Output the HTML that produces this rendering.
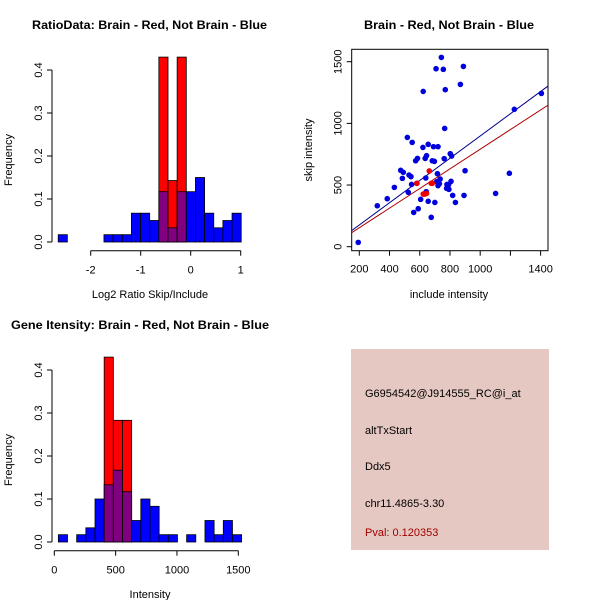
<!DOCTYPE html>
<html><head><meta charset="utf-8"><style>
html,body{margin:0;padding:0;background:#fff}
svg{display:block;font-family:"Liberation Sans",sans-serif}
</style></head><body>
<svg id="chart" width="600" height="600" viewBox="0 0 600 600" xmlns="http://www.w3.org/2000/svg">
<rect x="0" y="0" width="600" height="600" fill="#fff"/>
<g id="p1"></g>
<g id="p2"></g>
<g id="p3"></g>
<g>
<rect x="351" y="349" width="198" height="201" fill="#e6c8c2"/>
<text x="365" y="397" font-size="11">G6954542@J914555_RC@i_at</text>
<text x="365" y="434" font-size="11">altTxStart</text>
<text x="365" y="470" font-size="11">Ddx5</text>
<text x="365" y="507" font-size="11">chr11.4865-3.30</text>
<text x="365" y="536" font-size="11" fill="#a00000">Pval: 0.120353</text>
</g>
</svg>
<script>
// Ratio histogram data
const ratioBinStart = -2.65;
const ratioBinWidth = 0.183;
const ratioBlue = [0.017,0,0,0,0,0.017,0.017,0.017,0.067,0.067,0.05,0.117,0.033,0.117,0.117,0.15,0.067,0.033,0.05,0.067];
const ratioRed = [0,0,0,0,0,0,0,0,0,0,0,0.43,0.143,0.43,0,0,0,0,0,0];
const ratioXTicks = [-2,-1,0,1];
const freqTicks = [0,0.1,0.2,0.3,0.4];
// Intensity histogram data
const intBinStart = 33;
const intBinWidth = 74.7;
const intBlue = [0.017,0,0.017,0.033,0.1,0.133,0.167,0.117,0.05,0.1,0.083,0.017,0.017,0,0.017,0,0.05,0.017,0.05,0.017];
const intRed = [0,0,0,0,0,0.43,0.283,0.283,0,0,0,0,0,0,0,0,0,0,0,0];
const intXTicks = [0,500,1000,1500];
// Scatter data
const blueX = [193,319,385,432,474,485,491,518,524,529,542,550,546,560,573,585,581,590,606,621,623,627,636,640,645,643,656,656,676,683,691,697,700,708,712,717,721,721,730,735,743,756,762,765,769,778,780,791,793,802,807,811,818,836,869,889,893,900,1102,1193,1226,1405];
const blueY = [35,332,389,481,619,554,603,886,441,581,568,846,505,278,697,716,514,308,384,805,1259,427,716,557,738,446,830,368,238,697,811,692,359,1443,527,592,811,495,511,549,1535,1438,714,959,1273,473,505,503,465,754,530,735,416,359,1316,1462,416,616,432,595,1114,1243];
const redX = [581,623,634,645,663,676,683];
const redY = [514,427,427,432,614,514,514];
const blueFit = [-4.5, 0.902];
const redFit = [-5.6, 0.796];
const scatXTicks = [200,400,600,800,1000,1400];
const scatYTicks = [0,500,1000,1500];

const NS = "http://www.w3.org/2000/svg";
function mk(parent, tag, attrs, text){
  const e = document.createElementNS(NS, tag);
  for (const k in attrs) e.setAttribute(k, attrs[k]);
  if (text !== undefined) e.textContent = text;
  parent.appendChild(e);
  return e;
}

function histogram(g, o){
  const xs = v => o.x0 + (v - o.xv0) * o.xk;
  const ys = v => o.y0 - v * o.yk;
  o.blue.forEach((b, i) => {
    const r = o.red[i];
    const l = xs(o.binStart + i*o.binWidth), rr = xs(o.binStart + (i+1)*o.binWidth);
    if (r > 0) {
      const e = mk(g, 'rect', {x:l, y:ys(r), width:rr-l, height:ys(0)-ys(r), fill:'#ff0000', stroke:'#000', 'stroke-width':0.8});
      
      
    }
    if (b > 0) {
      const e = mk(g, 'rect', {x:l, y:ys(b), width:rr-l, height:ys(0)-ys(b), fill: r > 0 ? '#800080' : '#0000ff', stroke:'#000', 'stroke-width':0.8});
      
      
    }
  });
  // y axis
  const ya = mk(g, 'line', {x1:o.yAxisX, x2:o.yAxisX, y1:ys(0), y2:ys(0.4), stroke:'#000'});
  
  
  o.yTicks.forEach(t => {
    mk(g, 'line', {x1:o.yAxisX-5, x2:o.yAxisX, y1:ys(t), y2:ys(t), stroke:'#000'});
    const tx = mk(g, 'text', {x:o.yAxisX-10, y:ys(t), 'font-size':11, 'text-anchor':'middle', transform:`rotate(-90 ${o.yAxisX-10} ${ys(t)})`}, t.toFixed(1));
    
    
  });
  const xa = mk(g, 'line', {x1:xs(o.xTicks[0]), x2:xs(o.xTicks[o.xTicks.length-1]), y1:o.xAxisY, y2:o.xAxisY, stroke:'#000'});
  
  
  o.xTicks.forEach(t => {
    mk(g, 'line', {x1:xs(t), x2:xs(t), y1:o.xAxisY, y2:o.xAxisY+5, stroke:'#000'});
    const tx = mk(g, 'text', {x:xs(t), y:o.xAxisY+23, 'font-size':11, 'text-anchor':'middle'}, t);
    
    
  });
  const yl = mk(g, 'text', {x:12, y:o.ylabY, 'font-size':11, 'text-anchor':'middle', transform:`rotate(-90 12 ${o.ylabY})`}, 'Frequency');
  
  
  const xl = mk(g, 'text', {x:o.xlabX, y:o.xlabY, 'font-size':11, 'text-anchor':'middle'}, o.xlab);
  
  
  const ti = mk(g, 'text', {x:o.titleX, y:o.titleY, 'font-size':12, 'font-weight':'bold', 'text-anchor':'middle', textLength:o.titleLen, lengthAdjust:'spacingAndGlyphs'}, o.title);
  
  
}

histogram(document.getElementById('p1'), {
  x0:190.7, xv0:0, xk:50, y0:242, yk:430,
  binStart:ratioBinStart, binWidth:ratioBinWidth, blue:ratioBlue, red:ratioRed,
  yAxisX:52, xAxisY:250.7, xTicks:ratioXTicks, yTicks:freqTicks,
  ylabY:160, xlab:'Log2 Ratio Skip/Include', xlabX:150, xlabY:298,
  title:'RatioData: Brain - Red, Not Brain - Blue', titleX:149.5, titleY:29, titleLen:235
});
histogram(document.getElementById('p3'), {
  x0:54.3, xv0:0, xk:0.12267, y0:542, yk:430,
  binStart:intBinStart, binWidth:intBinWidth, blue:intBlue, red:intRed,
  yAxisX:52, xAxisY:550.7, xTicks:intXTicks, yTicks:freqTicks,
  ylabY:460, xlab:'Intensity', xlabX:150, xlabY:598,
  title:'Gene Itensity: Brain - Red, Not Brain - Blue', titleX:140, titleY:329, titleLen:258
});

// scatter
(function(){
  const g = document.getElementById('p2');
  const L=351.7, R=548, T=49.3, B=250.7;
  const xs = v => 359.3 + (v-200)*0.15111;
  const ys = v => 246.7 - v*0.12333;
  const box = mk(g, 'rect', {x:L, y:T, width:R-L, height:B-T, fill:'none', stroke:'#000'});
  
  
  const clip = mk(g, 'clipPath', {id:'c2'});
  mk(clip, 'rect', {x:L, y:T, width:R-L, height:B-T});
  const xv = v => 200 + (v-359.3)/0.15111;
  [[blueFit,'#00008b','blue-fit-line'],[redFit,'#b00000','red-fit-line']].forEach(([f,c,n]) => {
    const a = xv(L), b = xv(R);
    const ln = mk(g, 'line', {x1:L, x2:R, y1:ys(f[0]+f[1]*a), y2:ys(f[0]+f[1]*b), stroke:c, 'stroke-width':1, 'clip-path':'url(#c2)'});
    
    
  });
  blueX.forEach((x,i) => {
    const p = mk(g, 'circle', {cx:xs(x), cy:ys(blueY[i]), r:2.8, fill:'#0000dd'});
    
    
  });
  redX.forEach((x,i) => {
    const p = mk(g, 'circle', {cx:xs(x), cy:ys(redY[i]), r:2.8, fill:'#ee0000'});
    
    
  });
  scatXTicks.forEach(t => {
    mk(g, 'line', {x1:xs(t), x2:xs(t), y1:B, y2:B+5, stroke:'#000'});
    const tx = mk(g, 'text', {x:xs(t), y:B+22, 'font-size':11, 'text-anchor':'middle'}, t);
    
    
  });
  mk(g, 'line', {x1:xs(1200), x2:xs(1200), y1:B, y2:B+5, stroke:'#000'});
  scatYTicks.forEach(t => {
    mk(g, 'line', {x1:L-5, x2:L, y1:ys(t), y2:ys(t), stroke:'#000'});
    const tx = mk(g, 'text', {x:L-10, y:ys(t), 'font-size':11, 'text-anchor':'middle', transform:`rotate(-90 ${L-10} ${ys(t)})`}, t);
    
    
  });
  const xl = mk(g, 'text', {x:449, y:298, 'font-size':11, 'text-anchor':'middle'}, 'include intensity');
  
  
  const yl = mk(g, 'text', {x:312, y:150, 'font-size':11, 'text-anchor':'middle', transform:'rotate(-90 312 150)'}, 'skip intensity');
  
  
  const ti = mk(g, 'text', {x:449, y:29, 'font-size':12, 'font-weight':'bold', 'text-anchor':'middle', textLength:170, lengthAdjust:'spacingAndGlyphs'}, 'Brain - Red, Not Brain - Blue');
  
  
})();
</script>
</body></html>
